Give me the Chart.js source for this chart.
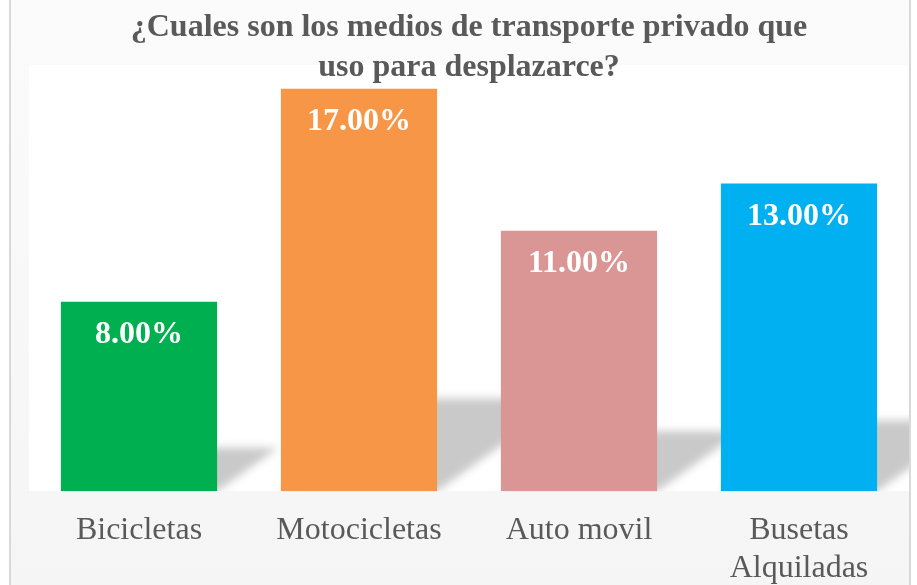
<!DOCTYPE html>
<html>
<head>
<meta charset="utf-8">
<script src="https://cdn.jsdelivr.net/npm/chart.js@4"></script>
<style>
  html, body { margin: 0; padding: 0; background: #ffffff; }
  #wrap { width: 917px; height: 585px; }
</style>
</head>
<body>
<div id="wrap"><canvas id="grafico"></canvas></div>
<script>
// Datos del gráfico
const categorias = ['Bicicletas', 'Motocicletas', 'Auto movil', ['Busetas', 'Alquiladas']];
const porcentajes = [8, 17, 11, 13];
const colores = ['#00B050', '#F79646', '#D99694', '#00B0F0'];
const titulo = ['¿Cuales son los medios de transporte privado que', 'uso para desplazarce?'];

// Fondo y marco del gráfico
const fondo = {
  id: 'fondo',
  beforeDraw(chart) {
    const ctx = chart.ctx;
    const a = chart.chartArea;
    ctx.save();
    ctx.fillStyle = '#ffffff';
    ctx.fillRect(0, 0, chart.width, chart.height);
    const g = ctx.createLinearGradient(0, 0, 0, chart.height);
    g.addColorStop(0, '#fbfbfb');
    g.addColorStop(1, '#f5f5f5');
    ctx.fillStyle = g;
    ctx.fillRect(10, 0, 900, chart.height);
    ctx.strokeStyle = '#d9d9d9';
    ctx.lineWidth = 2;
    ctx.beginPath();
    ctx.moveTo(10, 0); ctx.lineTo(10, chart.height);
    ctx.moveTo(910, 0); ctx.lineTo(910, chart.height);
    ctx.stroke();
    ctx.fillStyle = '#ffffff';
    ctx.fillRect(a.left, a.top, a.right - a.left, a.bottom - a.top);
    ctx.restore();
  }
};

// Sombra en perspectiva detrás de las barras
const sombra = {
  id: 'sombra',
  beforeDatasetsDraw(chart) {
    const ctx = chart.ctx;
    const a = chart.chartArea;
    const meta = chart.getDatasetMeta(0);
    ctx.save();
    ctx.beginPath();
    ctx.rect(a.left, a.top, a.right - a.left, a.bottom - a.top);
    ctx.clip();
    ctx.filter = 'blur(4px)';
    ctx.fillStyle = '#c9c9c9';
    meta.data.forEach(bar => {
      const x0 = bar.x - bar.width / 2;
      const x1 = bar.x + bar.width / 2;
      const yb = bar.base;
      const h = (yb - bar.y) * 0.23;
      const dx = h * 1.4;
      ctx.beginPath();
      ctx.moveTo(x0, yb);
      ctx.lineTo(x1, yb);
      ctx.lineTo(x1 + dx, yb - h);
      ctx.lineTo(x0 + dx, yb - h);
      ctx.closePath();
      ctx.fill();
    });
    ctx.restore();
  }
};

// Etiquetas de porcentaje dentro de las barras
const etiquetas = {
  id: 'etiquetas',
  afterDatasetsDraw(chart) {
    const ctx = chart.ctx;
    const meta = chart.getDatasetMeta(0);
    ctx.save();
    ctx.font = 'bold 32px "Liberation Serif", "Times New Roman", serif';
    ctx.fillStyle = '#ffffff';
    ctx.textAlign = 'center';
    ctx.textBaseline = 'middle';
    meta.data.forEach((bar, i) => {
      ctx.fillText(porcentajes[i].toFixed(2) + '%', bar.x, bar.y + 33);
    });
    ctx.restore();
  }
};

const grafico = new Chart(document.getElementById('grafico'), {
  type: 'bar',
  data: {
    labels: categorias,
    datasets: [{
      data: porcentajes,
      backgroundColor: colores,
      borderWidth: 0,
      categoryPercentage: 1,
      barPercentage: 0.71
    }]
  },
  options: {
    responsive: true,
    maintainAspectRatio: false,
    animation: false,
    layout: { padding: { left: 29, right: 8, top: 0, bottom: -23 } },
    plugins: {
      legend: { display: false },
      tooltip: { enabled: false },
      title: {
        display: true,
        text: titulo,
        color: '#595959',
        font: { family: '"Liberation Serif", "Times New Roman", serif', size: 32, weight: 'bold', lineHeight: 1.25 },
        padding: { top: 8, bottom: -23 }
      }
    },
    scales: {
      x: {
        grid: { display: false, drawTicks: false },
        border: { display: false },
        ticks: {
          color: '#595959',
          padding: 20,
          font: { family: '"Liberation Serif", "Times New Roman", serif', size: 32, lineHeight: 1.2 },
          maxRotation: 0,
          autoSkip: false
        }
      },
      y: {
        display: false,
        min: 0,
        max: 18
      }
    }
  },
  plugins: [fondo, sombra, etiquetas]
});
</script>
</body>
</html>
